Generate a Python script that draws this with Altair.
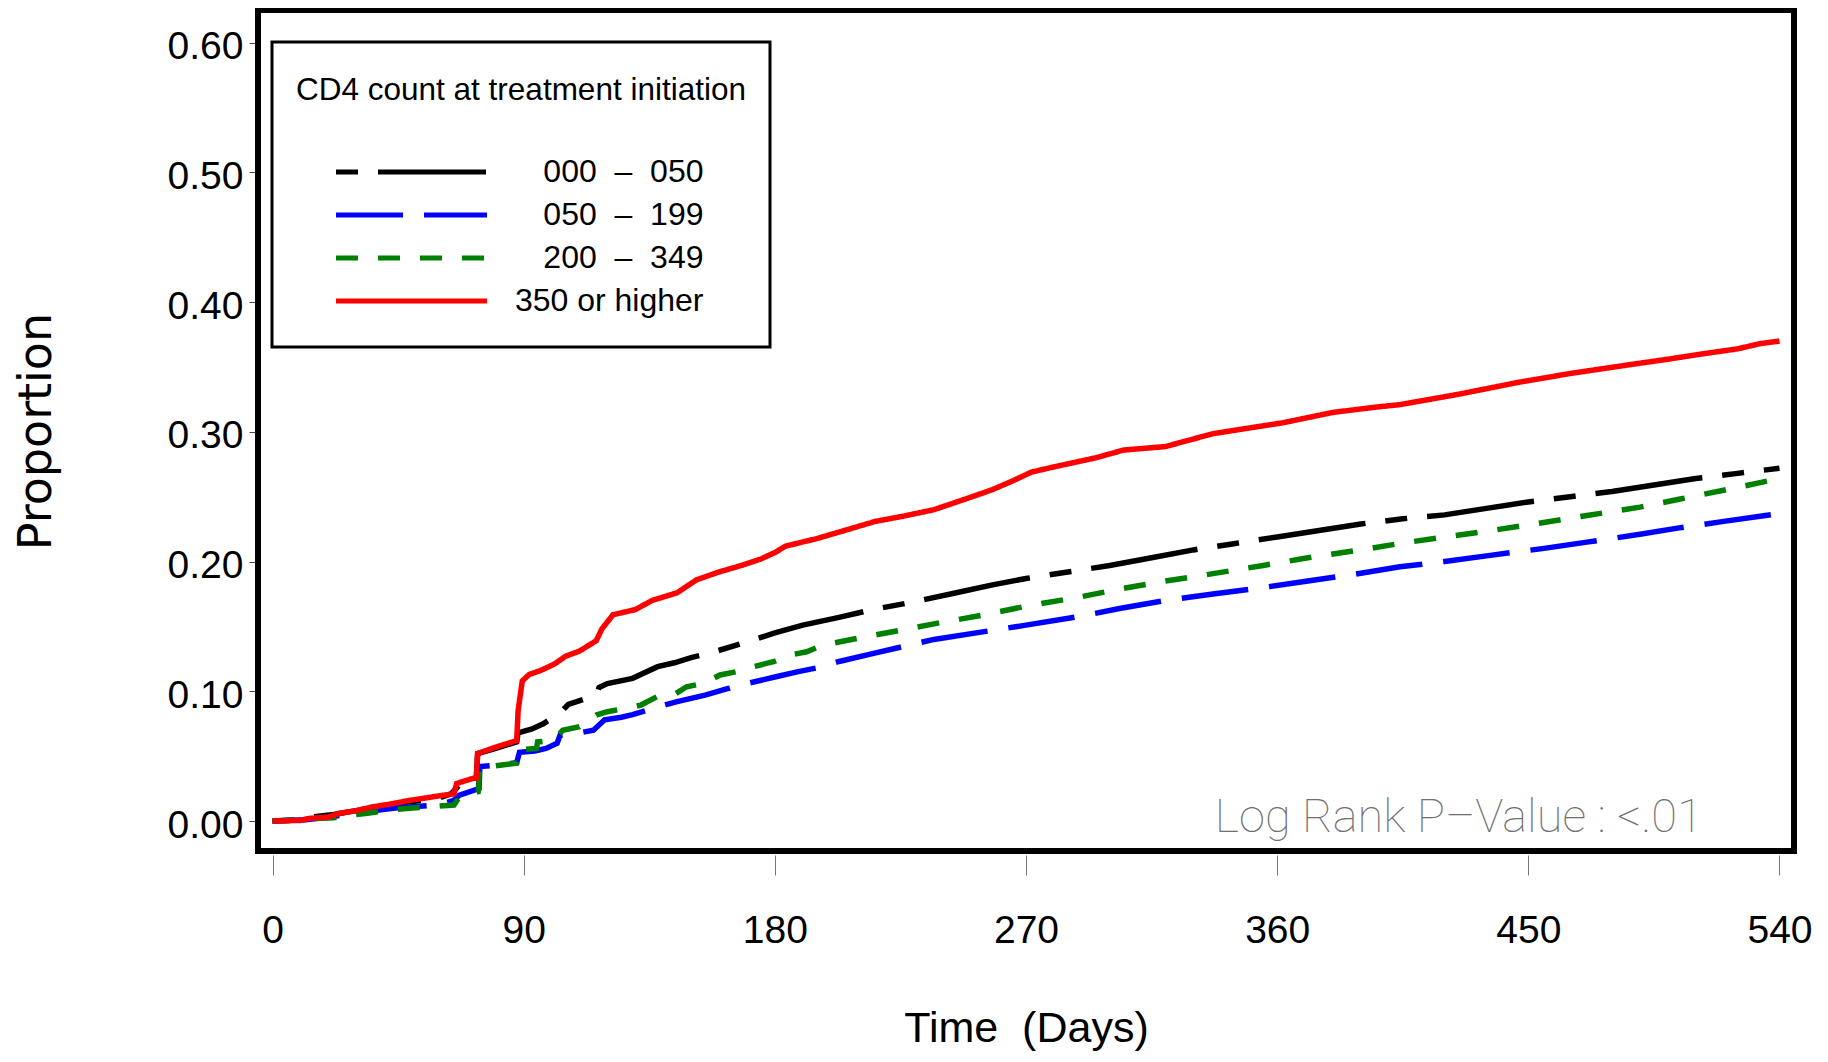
import altair as alt
import pandas as pd

# ---------------- data ----------------
NB = "\u00a0"
series_names = ["000" + NB * 2 + "–" + NB * 2 + "050",
                "050" + NB * 2 + "–" + NB * 2 + "199",
                "200" + NB * 2 + "–" + NB * 2 + "349",
                "350 or higher"]
series_colors = ["#000000", "#0000FF", "#008000", "#FF0000"]
series_dashes = [[22, 20, 108, 20], [67, 21], [22, 20], [1, 0]]

x_ticks = [0, 90, 180, 270, 360, 450, 540]
y_ticks = [0.0, 0.1, 0.2, 0.3, 0.4, 0.5, 0.6]

black_day = [0, 10, 14, 22, 30, 38, 46, 54, 60, 64, 67, 73, 73.5, 80, 87.5, 88, 93, 97, 100, 103,
             106, 116, 117, 120, 129, 138, 144, 150, 156, 170, 180, 190, 203, 215, 230, 245, 258,
             270, 285, 300, 315, 330, 345, 360, 375, 390, 405, 420, 435, 450, 465, 480, 495, 510,
             525, 540]
black_val = [0, 0.001, 0.003, 0.005, 0.008, 0.011, 0.014, 0.016, 0.018, 0.021, 0.028, 0.031, 0.052,
             0.056, 0.061, 0.068, 0.071, 0.075, 0.079, 0.083, 0.090, 0.097, 0.103, 0.106, 0.110,
             0.119, 0.122, 0.126, 0.129, 0.138, 0.145, 0.151, 0.157, 0.163, 0.169, 0.176, 0.182,
             0.187, 0.192, 0.197, 0.203, 0.209, 0.214, 0.219, 0.224, 0.229, 0.233, 0.236, 0.241,
             0.246, 0.250, 0.254, 0.259, 0.264, 0.268, 0.272]

blue_day = [0, 12, 20, 30, 36, 44, 50, 56, 62, 65, 67, 74, 74.3, 80, 87.5, 88.5, 94, 98, 102, 103,
            110, 115, 119, 125, 129, 138, 145, 155, 163, 170, 180, 188, 195, 203, 215, 237, 255,
            270, 290, 304, 320, 337, 355, 371, 390, 404, 420, 437, 455, 471, 490, 504, 520, 540]
blue_val = [0, 0.001, 0.003, 0.006, 0.008, 0.010, 0.011, 0.012, 0.014, 0.016, 0.020, 0.025, 0.042,
            0.043, 0.045, 0.053, 0.054, 0.056, 0.060, 0.066, 0.068, 0.070, 0.078, 0.080, 0.082,
            0.088, 0.092, 0.097, 0.102, 0.106, 0.111, 0.115, 0.118, 0.123, 0.129, 0.140, 0.146,
            0.151, 0.158, 0.164, 0.170, 0.175, 0.180, 0.185, 0.191, 0.196, 0.200, 0.205, 0.210,
            0.215, 0.221, 0.226, 0.231, 0.237]

green_day = [0, 12, 15, 22, 28, 34, 42, 49, 56, 65, 67, 73.7, 74.2, 87.5, 88, 94.6, 95, 100.6, 104,
             110, 116, 120, 127, 132, 137.7, 143.6, 148.4, 154.4, 160.4, 166.3, 172.3, 179.5,
             185.5, 191.4, 197.4, 203.4, 215, 237, 255, 270, 290, 304, 320, 337, 355, 371, 390,
             404, 420, 437, 455, 471, 490, 504, 520, 540]
green_val = [0, 0.001, 0.002, 0.0025, 0.0046, 0.006, 0.0085, 0.0098, 0.011, 0.0123, 0.0187, 0.0226,
             0.041, 0.0447, 0.0547, 0.056, 0.061, 0.062, 0.070, 0.0727, 0.0817, 0.0843, 0.087,
             0.0894, 0.0958, 0.0971, 0.1035, 0.1061, 0.1126, 0.1151, 0.119, 0.1228, 0.128, 0.1305,
             0.1357, 0.1382, 0.143, 0.152, 0.159, 0.1656, 0.173, 0.179, 0.185, 0.1907, 0.197,
             0.203, 0.209, 0.214, 0.219, 0.224, 0.230, 0.2355, 0.242, 0.248, 0.255, 0.264]

red_day = [0, 10, 13, 20, 24, 30, 36, 42, 48, 54, 60, 65, 66, 72, 73, 73.5, 80, 87.5, 88, 89.5, 92,
           96, 101, 105, 110, 116, 118, 122, 126, 130, 136, 145, 152, 160, 168, 175, 180, 184, 195,
           205, 216, 226, 237, 248, 258, 265, 272, 280, 295, 305, 320, 337, 350, 362, 380, 395,
           404, 425, 446, 465, 487, 500, 512, 525, 533, 540]
red_val = [0, 0.0005, 0.002, 0.003, 0.006, 0.008, 0.011, 0.013, 0.0155, 0.0175, 0.0195, 0.021, 0.029,
           0.033, 0.033, 0.052, 0.057, 0.062, 0.085, 0.108, 0.113, 0.116, 0.121, 0.127, 0.131,
           0.139, 0.148, 0.159, 0.161, 0.163, 0.170, 0.176, 0.186, 0.192, 0.197, 0.202, 0.207,
           0.212, 0.2177, 0.224, 0.231, 0.235, 0.240, 0.248, 0.2555, 0.262, 0.269, 0.273, 0.280,
           0.286, 0.2887, 0.2986, 0.303, 0.307, 0.315, 0.319, 0.321, 0.329, 0.338, 0.345, 0.352,
           0.356, 0.360, 0.364, 0.368, 0.370]

annot_label = ["Log Rank P–Value : <.01"]
annot_day = [512.5]
annot_prop = [-0.0085]

legend_title = "CD4 count at treatment initiation"
x_title = "Time" + NB * 2 + "(Days)"

# ---------------- table ----------------
rows = []
for name, days, vals in zip(series_names,
                            [black_day, blue_day, green_day, red_day],
                            [black_val, blue_val, green_val, red_val]):
    for i, (d, v) in enumerate(zip(days, vals)):
        rows.append({"series": name, "day": d, "prop": v, "idx": i})
df = pd.DataFrame(rows)
annot_df = pd.DataFrame({"label": annot_label, "day": annot_day, "prop": annot_prop})

x_scale = alt.Scale(domain=[-5.2, 545.2], nice=False, zero=False)
y_scale = alt.Scale(domain=[-0.0231, 0.6252], nice=False, zero=False)

x_axis = alt.Axis(values=x_ticks, title=x_title, grid=False, domain=False,
                  labelFont="Liberation Sans", labelFontSize=39, labelColor="black",
                  labelBaseline="top", labelPadding=36, labelFlush=False, labelOverlap=False,
                  tickColor="#777777", tickWidth=1, tickSize=20, offset=4,
                  titleFont="Liberation Sans", titleFontSize=43, titleFontWeight="normal",
                  titleColor="black", titleX=768, titleY=186, titleBaseline="alphabetic",
                  titleAlign="center")
y_axis = alt.Axis(values=y_ticks, format=".2f", title="Proportion", grid=False, domain=False,
                  labelFont="Liberation Sans", labelFontSize=39,
                  labelColor="black", labelBaseline="alphabetic", labelOffset=16,
                  labelPadding=6, labelFlush=False, labelOverlap=False,
                  tickColor="#444444", tickWidth=1, tickSize=6, offset=3,
                  titleFont="DejaVu Sans", titleFontSize=46, titleFontWeight="normal",
                  titleColor="black", titleAngle=270, titleX=-205, titleY=421,
                  titleBaseline="alphabetic", titleAlign="center")

lines = alt.Chart(df).mark_line(strokeWidth=5.5, strokeCap="butt", clip=True).encode(
    x=alt.X("day:Q", scale=x_scale, axis=x_axis),
    y=alt.Y("prop:Q", scale=y_scale, axis=y_axis),
    color=alt.Color("series:N", scale=alt.Scale(domain=series_names, range=series_colors),
                    legend=alt.Legend(title=legend_title)),
    strokeDash=alt.StrokeDash("series:N", scale=alt.Scale(domain=series_names, range=series_dashes),
                              legend=alt.Legend(title=legend_title)),
    order="idx:Q",
)

annot = alt.Chart(annot_df).mark_text(align="right", baseline="alphabetic", font="Roboto",
                                      fontWeight=100, fontSize=47, color="#707070").encode(
    x=alt.X("day:Q", scale=x_scale),
    y=alt.Y("prop:Q", scale=y_scale),
    text="label:N",
)

chart = alt.layer(lines, annot).properties(
    width=1536, height=841,
    autosize=alt.AutoSizeParams(type="none"),
    padding={"left": 250, "top": 2, "right": 20, "bottom": 205},
    background="white",
).configure_view(
    stroke="black", strokeWidth=6
).configure_legend(
    orient="none", legendX=14, legendY=32,
    strokeColor="black", strokeWidth=3, fillColor="white", padding=24,
    titleFont="Liberation Sans", titleFontSize=31.5, titleFontWeight="normal", titleColor="black",
    titleBaseline="line-top", titleLineHeight=49, titlePadding=53, titleLimit=700,
    labelFont="Liberation Sans", labelFontSize=32, labelColor="black", labelAlign="right",
    labelOffset=214, labelBaseline="middle", labelLimit=600,
    symbolType="stroke", symbolSize=22801, symbolStrokeWidth=5, symbolOffset=37.5,
    clipHeight=42.9, rowPadding=0,
)

chart.save("out.html", embed_options={"renderer": "svg", "actions": False})
